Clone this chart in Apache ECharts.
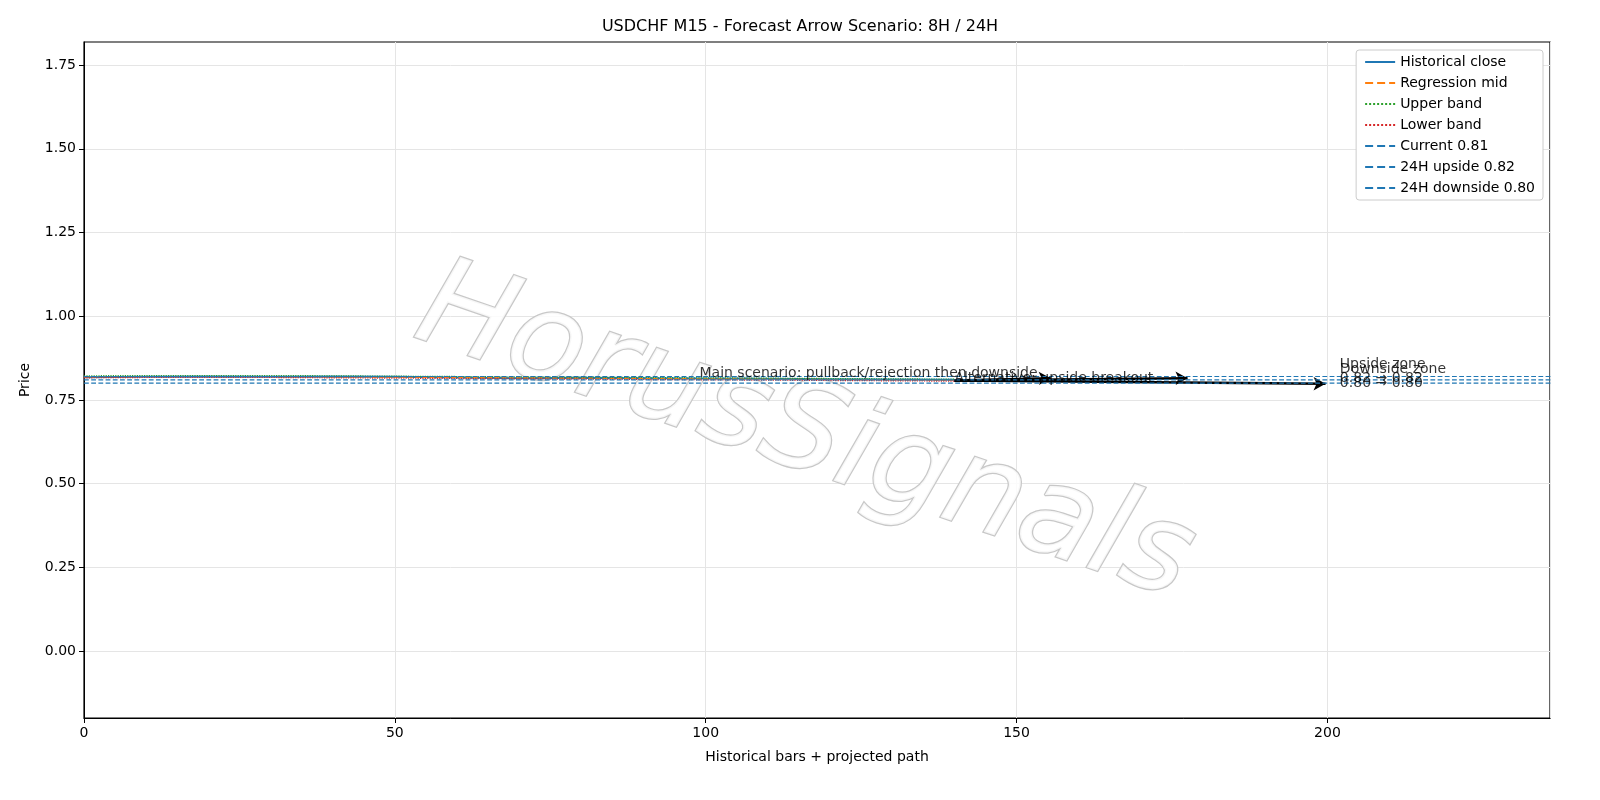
<!DOCTYPE html>
<html><head><meta charset="utf-8">
<script src="https://cdn.jsdelivr.net/npm/echarts@6/dist/echarts.min.js"></script>
<style>html,body{margin:0;background:#fff;overflow:hidden}#main{width:1600px;height:800px}</style>
</head><body><div id="main"></div>
<script>
// 历史数据 (bar index, price)
var histX = [0, 10, 20, 30, 40, 50, 60, 70, 80, 90, 100, 110, 120, 130, 140];
var histClose = [0.818, 0.819, 0.820, 0.819, 0.820, 0.819, 0.817, 0.815, 0.816, 0.815, 0.814, 0.813, 0.812, 0.811, 0.810];
var regMid = [0.819, 0.820, 0.820, 0.820, 0.819, 0.818, 0.817, 0.816, 0.815, 0.814, 0.813, 0.812, 0.811, 0.810, 0.809];
var upperBand = [0.822, 0.823, 0.823, 0.823, 0.822, 0.821, 0.820, 0.819, 0.818, 0.817, 0.816, 0.815, 0.814, 0.813, 0.812];
var lowerBand = [0.816, 0.817, 0.817, 0.817, 0.816, 0.815, 0.814, 0.813, 0.812, 0.811, 0.810, 0.809, 0.808, 0.807, 0.806];
var currentLvl = 0.81, upLvl = 0.82, downLvl = 0.80;
var yTicks = [0, 0.25, 0.5, 0.75, 1.0, 1.25, 1.5, 1.75];
// 箭头 [x0,y0,x1,y1]
var arrows = [[140, 0.808, 155.5, 0.815], [140, 0.808, 177.5, 0.815], [140, 0.808, 199.7, 0.798]];

function pairs(xs, ys) { return xs.map(function (x, i) { return [x, ys[i]]; }); }
function hline(v) { return [[0, v], [236, v]]; }
function ser(name, data, color, width, type) {
  return { name: name, type: 'line', symbol: 'none', data: data, z: 5,
    lineStyle: { color: color, width: width, type: type }, itemStyle: { color: color } };
}

var font = 'DejaVu Sans';
var myChart = echarts.init(document.getElementById('main'));
var option = {
  animation: false,
  textStyle: { fontFamily: font },
  title: { text: 'USDCHF M15 - Forecast Arrow Scenario: 8H / 24H', left: 'center', top: 14,
    textStyle: { fontSize: 16, fontWeight: 'normal', color: '#000', fontFamily: font } },
  grid: { left: 84, right: 50, top: 42, bottom: 82, show: true, borderColor: '#000', borderWidth: 1.2 },
  legend: {
    orient: 'vertical', right: 57, top: 50, itemWidth: 30, itemHeight: 10, itemGap: 7,
    backgroundColor: '#fff', borderColor: '#ccc', borderWidth: 1, borderRadius: 3, padding: [5, 8],
    itemStyle: { opacity: 0 },
    textStyle: { fontSize: 14, color: '#000', fontFamily: font },
    data: ['Historical close', 'Regression mid', 'Upper band', 'Lower band', 'Current 0.81', '24H upside 0.82', '24H downside 0.80']
  },
  xAxis: {
    type: 'value', min: 0, max: 235.8, interval: 50,
    name: 'Historical bars + projected path', nameLocation: 'middle', nameGap: 32,
    nameTextStyle: { fontSize: 14, color: '#000' },
    axisLabel: { fontSize: 14, color: '#000', showMaxLabel: false },
    axisTick: { lineStyle: { color: '#000' } }, axisLine: { onZero: false, lineStyle: { color: '#000' } },
    splitLine: { lineStyle: { color: '#e5e5e5' } }
  },
  yAxis: {
    type: 'value', min: -0.2, max: 1.819,
    name: 'Price', nameLocation: 'middle', nameGap: 52,
    nameTextStyle: { fontSize: 14, color: '#000' },
    axisLabel: { fontSize: 14, color: '#000', customValues: yTicks, formatter: function (v) { return v.toFixed(2); } },
    axisTick: { customValues: yTicks, lineStyle: { color: '#000' } }, axisLine: { show: true, onZero: false, lineStyle: { color: '#000' } },
    splitLine: { lineStyle: { color: '#e5e5e5' } }
  },
  graphic: [{
    type: 'text', left: 400, top: 245, rotation: -0.33, z: 1,
    style: { text: 'HorusSignals', fontSize: 124, fontStyle: 'italic', fontFamily: font, fill: 'rgba(255,255,255,0.85)',
      stroke: '#c8c8c8', lineWidth: 2.5, shadowColor: 'rgba(0,0,0,0.35)', shadowOffsetX: 3, shadowOffsetY: 6, shadowBlur: 3 }
  }],
  series: [
    ser('Historical close', pairs(histX, histClose), '#1f77b4', 2, 'solid'),
    ser('Regression mid', pairs(histX, regMid), '#ff7f0e', 1.2, 'dashed'),
    ser('Upper band', pairs(histX, upperBand), '#2ca02c', 1.2, 'dotted'),
    ser('Lower band', pairs(histX, lowerBand), '#d62728', 1.2, 'dotted'),
    ser('Current 0.81', hline(currentLvl), '#1f77b4', 1.2, 'dashed'),
    ser('24H upside 0.82', hline(upLvl), '#1f77b4', 1.2, 'dashed'),
    ser('24H downside 0.80', hline(downLvl), '#1f77b4', 1.2, 'dashed'),
    {
      type: 'scatter', symbolSize: 0, z: 6, data: [[99, 0.83], [140, 0.815], [202, 0.835], [202, 0.82]],
      label: {
        show: true, position: 'right', distance: 0, fontSize: 14, color: '#000',
        formatter: function (p) {
          return ['Main scenario: pullback/rejection then downside', 'Alternative: upside breakout',
            'Upside zone\n0.82 → 0.82', 'Downside zone\n0.80 → 0.80'][p.dataIndex];
        }
      },
      markLine: {
        silent: true, symbol: ['none', 'arrow'], symbolSize: [10, 12],
        lineStyle: { color: '#000', width: 2.5, type: 'solid' }, label: { show: false },
        data: arrows.map(function (a) { return [{ coord: [a[0], a[1]] }, { coord: [a[2], a[3]] }]; })
      }
    }
  ]
};
myChart.setOption(option);
</script></body></html>
